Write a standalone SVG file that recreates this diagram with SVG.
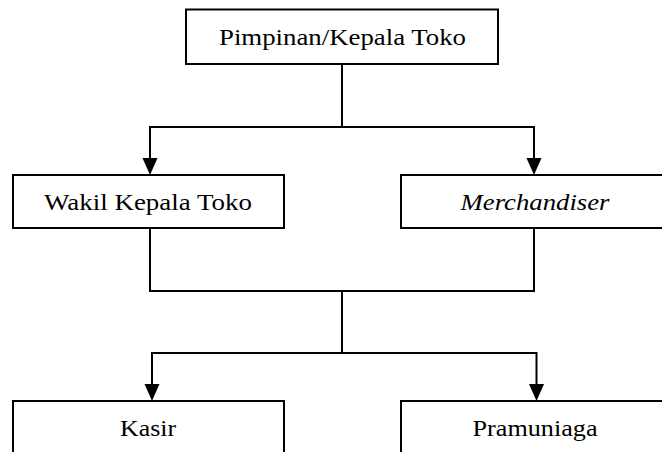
<svg xmlns="http://www.w3.org/2000/svg" width="662" height="452" viewBox="0 0 662 452">
<style>
.box{fill:#fff;stroke:#000;stroke-width:2}
.ln{fill:none;stroke:#000;stroke-width:2}
.ah{fill:#000}
</style>
<rect width="662" height="452" fill="#fff"/>
<g id="connectors">
<polyline class="ln" points="342,64 342,127"/>
<polyline class="ln" points="150,160 150,127 534,127 534,160"/>
<polygon class="ah" points="142.5,158 157.5,158 150,175"/>
<polygon class="ah" points="526.5,158 541.5,158 534,175"/>
<polyline class="ln" points="150,228 150,291 534,291 534,228"/>
<polyline class="ln" points="342,291 342,353"/>
<polyline class="ln" points="152,386 152,353 536.5,353 536.5,386"/>
<polygon class="ah" points="144.5,384 159.5,384 152,401"/>
<polygon class="ah" points="529,384 544,384 536.5,401"/>
</g>
<g font-family="Liberation Serif, serif" font-size="24" fill="#000" text-anchor="middle">
<g id="pimpinan">
<rect class="box" x="186" y="9.5" width="312" height="54.5"/>
<text x="342.5" y="45" textLength="247" lengthAdjust="spacingAndGlyphs">Pimpinan/Kepala Toko</text>
</g>
<g id="wakil">
<rect class="box" x="13" y="175" width="271" height="53"/>
<text x="148" y="210" textLength="208" lengthAdjust="spacingAndGlyphs">Wakil Kepala Toko</text>
</g>
<g id="merchandiser">
<rect class="box" x="401" y="175" width="270" height="53"/>
<text x="535" y="210" font-style="italic" textLength="149" lengthAdjust="spacingAndGlyphs">Merchandiser</text>
</g>
<g id="kasir">
<rect class="box" x="13" y="401" width="271" height="60"/>
<text x="148" y="436" textLength="56" lengthAdjust="spacingAndGlyphs">Kasir</text>
</g>
<g id="pramuniaga">
<rect class="box" x="401" y="401" width="270" height="60"/>
<text x="535" y="436" textLength="125" lengthAdjust="spacingAndGlyphs">Pramuniaga</text>
</g>
</g>
</svg>
